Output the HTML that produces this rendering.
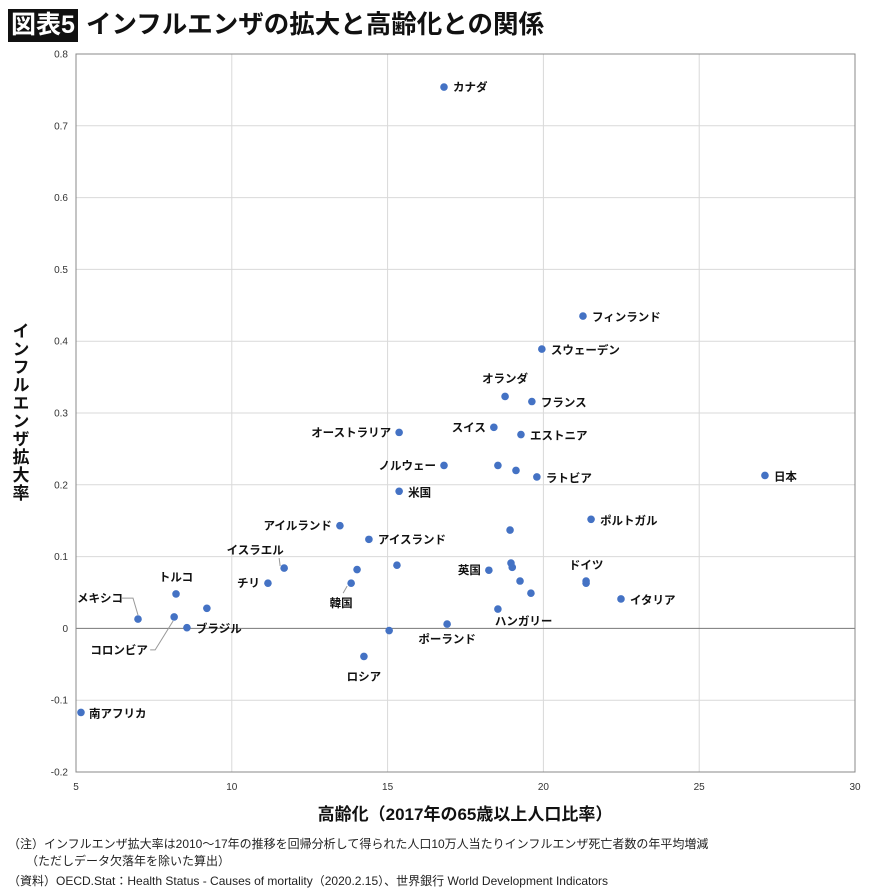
<!DOCTYPE html>
<html><head><meta charset="utf-8">
<style>
body{margin:0;background:#fff;width:872px;height:891px;overflow:hidden;font-family:"Liberation Sans","Noto Sans CJK JP",sans-serif;}
.n{position:absolute;left:8px;font-size:12px;color:#222;}
</style></head><body>
<div style="position:absolute;left:8px;top:9px;width:70px;height:33px;background:#111;color:#fff;font-weight:bold;font-size:25px;line-height:33px;text-align:center;">図表5</div>
<div style="position:absolute;left:86px;top:8px;font-weight:bold;font-size:25.5px;line-height:35px;color:#111;">インフルエンザの拡大と高齢化との関係</div>
<svg id="c" width="872" height="891" style="position:absolute;left:0;top:0"></svg>
<div class="n" style="top:835px">（注）インフルエンザ拡大率は2010～17年の推移を回帰分析して得られた人口10万人当たりインフルエンザ死亡者数の年平均増減</div>
<div class="n" style="top:852px">　　（ただしデータ欠落年を除いた算出）</div>
<div class="n" style="top:872px">（資料）OECD.Stat：Health Status - Causes of mortality（2020.2.15）、世界銀行 World Development Indicators</div>
<script>
const xTicks=[5,10,15,20,25,30];
const yTicks=[-0.2,-0.1,0,0.1,0.2,0.3,0.4,0.5,0.6,0.7,0.8];
const names=["カナダ","フィンランド","スウェーデン","オランダ","フランス","スイス","エストニア","オーストラリア","ノルウェー","","","ラトビア","日本","米国","アイルランド","ポルトガル","","アイスランド","イスラエル","","","","","英国","","ドイツ","","","イタリア","韓国","チリ","トルコ","","メキシコ","コロンビア","ブラジル","ハンガリー","ポーランド","","ロシア","南アフリカ"];
const xVals=[16.81,21.27,19.95,18.77,19.63,18.41,19.28,15.37,16.81,18.54,19.12,19.79,27.11,15.37,13.47,21.53,18.93,14.40,11.68,14.02,15.30,18.96,19.0,18.25,19.25,21.37,21.37,19.60,22.49,13.83,11.16,8.21,9.20,6.99,8.15,8.56,18.54,16.91,15.05,14.24,5.16];
const yVals=[0.754,0.435,0.389,0.323,0.316,0.280,0.270,0.273,0.227,0.227,0.220,0.211,0.213,0.191,0.143,0.152,0.137,0.124,0.084,0.082,0.088,0.091,0.085,0.081,0.066,0.066,0.063,0.049,0.041,0.063,0.063,0.048,0.028,0.013,0.016,0.001,0.027,0.006,-0.003,-0.039,-0.117];
const place={"カナダ":[9,4,"start"],"フィンランド":[9,5,"start"],"スウェーデン":[9,5,"start"],"オランダ":[0,-14,"middle"],"フランス":[9,5,"start"],"スイス":[-8,4,"end"],"エストニア":[9,5,"start"],"オーストラリア":[-8,4,"end"],"ノルウェー":[-8,4,"end"],"ラトビア":[9,5,"start"],"日本":[9,5,"start"],"米国":[9,5,"start"],"アイルランド":[-8,4,"end"],"ポルトガル":[9,5,"start"],"アイスランド":[9,4,"start"],"イスラエル":[-29,-14,"middle",1],"英国":[-8,4,"end"],"ドイツ":[0,-12,"middle"],"イタリア":[9,5,"start"],"韓国":[-10,24,"middle",1],"チリ":[-8,4,"end"],"トルコ":[0,-13,"middle"],"メキシコ":[-38,-17,"middle",1],"コロンビア":[-55,37,"middle",1],"ブラジル":[9,5,"start"],"ハンガリー":[-3,16,"start"],"ポーランド":[0,19,"middle"],"ロシア":[0,24,"middle"],"南アフリカ":[8,5,"start"]};
const L=76,R=855,T=54,B=772;
const sx=v=>L+(v-5)/25*(R-L), sy=v=>B-(v+0.2)/1.0*(B-T);
const svg=document.getElementById('c'),NS="http://www.w3.org/2000/svg";
function mk(t,a,txt){const e=document.createElementNS(NS,t);for(const k in a)e.setAttribute(k,a[k]);if(txt!==undefined)e.textContent=txt;svg.appendChild(e);return e;}
xTicks.forEach(v=>{const g=mk('line',{x1:sx(v),x2:sx(v),y1:T,y2:B,stroke:'#d9d9d9'});
const t=mk('text',{x:sx(v),y:B+18,'font-size':10,'text-anchor':'middle',fill:'#333'},v);});
yTicks.forEach(v=>{const g=mk('line',{x1:L,x2:R,y1:sy(v),y2:sy(v),stroke:v===0?'#777':'#d9d9d9'});
const t=mk('text',{x:L-8,y:sy(v)+3.5,'font-size':10,'text-anchor':'end',fill:'#333'},Math.abs(v)<1e-9?'0':String(Math.round(v*10)/10));});
const fr=mk('rect',{x:L,y:T,width:R-L,height:B-T,fill:'none',stroke:'#888'});
xVals.forEach((xv,i)=>{const cx=sx(xv),cy=sy(yVals[i]);const n=names[i];const p=place[n];
if(p&&p[3]){const lx=cx+p[0],ly=cy+p[1];let d;
if(n==="メキシコ")d=`M${lx+22},${ly-4} L${cx-5},${ly-4} L${cx},${cy-4}`;
else if(n==="コロンビア")d=`M${lx+31},${ly-4} L${lx+36},${ly-4} L${cx-1},${cy+4}`;
else if(n==="イスラエル")d=`M${lx+24},${ly+4} L${cx-4},${cy-2}`;
else d=`M${lx+2},${ly-14} L${cx-4},${cy+3}`;
const ln=mk('path',{d:d,fill:'none',stroke:'#999','stroke-width':1});}
const c=mk('circle',{cx:cx,cy:cy,r:3.8,fill:'#4472c4'});
if(n&&p){const t=mk('text',{x:cx+p[0],y:cy+p[1],'font-size':11.5,'font-weight':'bold','text-anchor':p[2],fill:'#111'},n);}});
const xt=mk('text',{x:465,y:820,'font-size':17,'font-weight':'bold','text-anchor':'middle',fill:'#111'},'高齢化（2017年の65歳以上人口比率）');
const yt=mk('text',{x:0,y:0,'font-size':17,'font-weight':'bold','text-anchor':'middle',fill:'#111','writing-mode':'tb',transform:'translate(19,412)','letter-spacing':'1'},'インフルエンザ拡大率');
</script>
</body></html>
